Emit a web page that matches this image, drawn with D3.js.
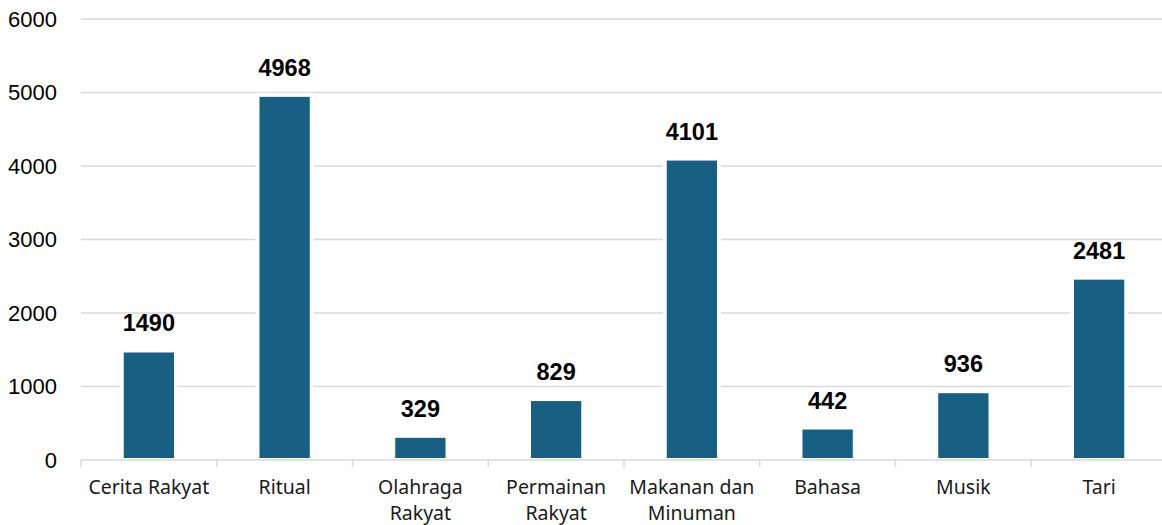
<!DOCTYPE html>
<html>
<head>
<meta charset="utf-8">
<script src="https://cdn.jsdelivr.net/npm/d3@7"></script>
<style>
  body { margin: 0; background: #fff; }
  svg { display: block; }
</style>
</head>
<body>
<svg id="chart" width="1162" height="525"></svg>
<script>
var categories = ["Cerita Rakyat", "Ritual", "Olahraga Rakyat", "Permainan Rakyat",
                  "Makanan dan Minuman", "Bahasa", "Musik", "Tari"];
var values = [1490, 4968, 329, 829, 4101, 442, 936, 2481];
var yTicks = [0, 1000, 2000, 3000, 4000, 5000, 6000];

var svg = d3.select("#chart"),
    margin = {top: 19, right: -5, bottom: 65, left: 81},
    width = +svg.attr("width") - margin.left - margin.right,
    height = +svg.attr("height") - margin.top - margin.bottom;

var x = d3.scaleBand()
    .domain(categories)
    .range([0, width])
    .paddingInner(0.6)
    .paddingOuter(0.3);

var y = d3.scaleLinear()
    .domain([0, 6000])
    .range([height, 0]);

var g = svg.append("g")
    .attr("transform", "translate(" + margin.left + "," + margin.top + ")");

// gridlines
g.append("g")
    .selectAll("line")
    .data(yTicks.slice(1))
    .enter().append("line")
    .attr("x1", 0)
    .attr("x2", width)
    .attr("y1", function(d) { return y(d); })
    .attr("y2", function(d) { return y(d); })
    .attr("stroke", "#d9d9d9")
    .attr("stroke-width", 1.5);

// y labels
g.append("g")
    .selectAll("text")
    .data(yTicks)
    .enter().append("text")
    .attr("x", -24)
    .attr("y", function(d) { return y(d); })
    .attr("dy", "0.35em")
    .attr("text-anchor", "end")
    .attr("font-family", "Liberation Sans, Arial, sans-serif")
    .attr("font-size", 22)
    .attr("fill", "#000")
    .text(function(d) { return d; });

// bars
g.append("g")
    .selectAll("rect")
    .data(values)
    .enter().append("rect")
    .attr("x", function(d, i) { return x(categories[i]); })
    .attr("y", function(d) { return y(d); })
    .attr("width", x.bandwidth())
    .attr("height", function(d) { return height - y(d); })
    .attr("fill", "#176083")
    .attr("stroke", "#fff")
    .attr("stroke-width", 4);

// value labels
g.append("g")
    .selectAll("text")
    .data(values)
    .enter().append("text")
    .attr("x", function(d, i) { return x(categories[i]) + x.bandwidth() / 2; })
    .attr("y", function(d) { return y(d) - 19; })
    .attr("text-anchor", "middle")
    .attr("font-family", "Liberation Sans, Arial, sans-serif")
    .attr("font-weight", "bold")
    .attr("font-size", 23.5)
    .attr("fill", "#000")
    .text(function(d) { return d; });

// x axis
var step = x.step();
var xAxis = g.append("g").attr("transform", "translate(0," + height + ")");
xAxis.append("line")
    .attr("x1", 0).attr("x2", width)
    .attr("stroke", "#d9d9d9").attr("stroke-width", 1.5);
xAxis.selectAll(".tick")
    .data(d3.range(categories.length + 1))
    .enter().append("line")
    .attr("x1", function(i) { return i * step; })
    .attr("x2", function(i) { return i * step; })
    .attr("y1", 0).attr("y2", 7)
    .attr("stroke", "#d9d9d9").attr("stroke-width", 1.5);

var labels = xAxis.selectAll(".xlabel")
    .data(categories)
    .enter().append("text")
    .attr("class", "xlabel")
    .attr("x", function(d) { return x(d) + x.bandwidth() / 2; })
    .attr("y", 34)
    .attr("text-anchor", "middle")
    .attr("font-family", "Noto Sans, sans-serif")
    .attr("font-size", 19.5)
    .attr("fill", "#1a1a1a");

labels.each(function(d) {
  var text = d3.select(this),
      words = d.split(" "),
      line = [],
      cx = text.attr("x"),
      tspan = text.append("tspan").attr("x", cx).attr("dy", 0);
  words.forEach(function(w) {
    line.push(w);
    tspan.text(line.join(" "));
    if (tspan.node().getComputedTextLength() > step - 2 && line.length > 1) {
      line.pop();
      tspan.text(line.join(" "));
      line = [w];
      tspan = text.append("tspan").attr("x", cx).attr("dy", 26).text(w);
    }
  });
});
</script>
</body>
</html>
